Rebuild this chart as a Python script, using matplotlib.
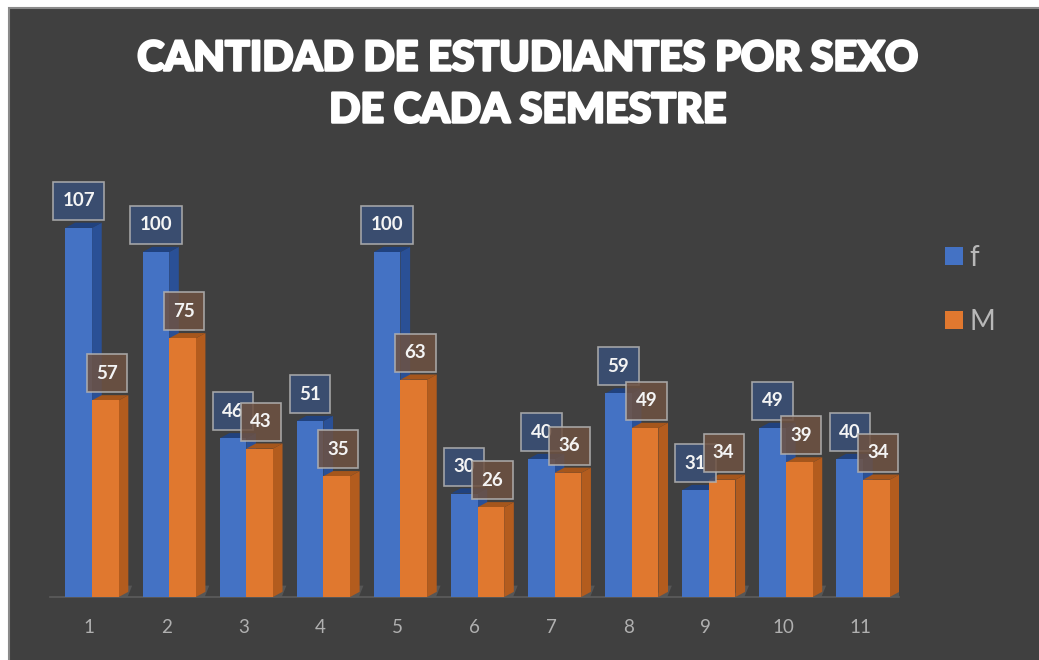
import matplotlib
matplotlib.use("Agg")
import matplotlib.pyplot as plt
from matplotlib.patches import Polygon, Rectangle
from matplotlib.path import Path
import matplotlib.patheffects as pe

semesters = [1, 2, 3, 4, 5, 6, 7, 8, 9, 10, 11]
f_values = [107, 100, 46, 51, 100, 30, 40, 59, 31, 49, 40]
m_values = [57, 75, 43, 35, 63, 26, 36, 49, 34, 39, 34]
title = "CANTIDAD DE ESTUDIANTES POR SEXO\nDE CADA SEMESTRE"

BG = "#404040"
W, H = 1039, 660
BAR_W = 0.345
SHIFT = 0.04
DX, DY = 0.125, 1.5

plt.rcParams["font.family"] = ["Lato", "DejaVu Sans"]
fig = plt.figure(figsize=(W / 100, H / 100), dpi=100, facecolor="white")
fig.add_artist(Rectangle((9 / W, -0.02), 1.02, 1.02 - 8 / H, transform=fig.transFigure,
                         facecolor=BG, edgecolor="#8a8a8a", linewidth=1.5, zorder=-5))

ax = fig.add_axes([50.45 / W, 1 - 597 / H, 848.1 / W, 414 / H])
ax.patch.set_alpha(0)
ax.set_xlim(0.5, 11.5)
ax.set_ylim(0, 120)


def label_box(x0, y0, width, height, mutation_size):
    # square box with different horizontal and vertical padding
    px, py = 0.5 * mutation_size, 0.56 * mutation_size
    x1, y1 = x0 + width + px, y0 + height + py
    a, b = x0 - px, y0 - py
    return Path([(a, b), (x1, b), (x1, y1), (a, y1), (a, b)], closed=True)


def bar3d(x, v, front, side, top, label):
    x0, x1 = x - BAR_W / 2, x + BAR_W / 2
    ax.add_patch(Polygon([(x1, 0), (x1 + DX, DY), (x1 + DX, v + DY), (x1, v)],
                         closed=True, facecolor=side, edgecolor="none", zorder=3))
    ax.add_patch(Polygon([(x0, v), (x0 + DX, v + DY), (x1 + DX, v + DY), (x1, v)],
                         closed=True, facecolor=top, edgecolor="none", zorder=3))
    return ax.bar(x, v, BAR_W, color=front, zorder=3, label=label)


BLUE = ("#4472c4", "#2a5096", "#21427e")
ORANGE = ("#e0782f", "#b35c1e", "#a5561c")
hf, hm = None, None
for s, fv, mv in zip(semesters, f_values, m_values):
    # floor wedge between groups
    ax.add_patch(Polygon([(s + 0.35, 0), (s + 0.45, DY * 2.2), (s + 0.56, DY * 2.2), (s + 0.5, 0)],
                         closed=True, facecolor="#565656", edgecolor="none", zorder=2))
    hf = bar3d(s + SHIFT - BAR_W / 2, fv, *BLUE, "f")
    hm = bar3d(s + SHIFT + BAR_W / 2, mv, *ORANGE, "M")

for color, xs_off, vals, zo in [("#3a5078", -BAR_W / 2, f_values, 5), ("#6e5242", BAR_W / 2 + 0.02, m_values, 6)]:
    for s, v in zip(semesters, vals):
        ax.annotate(str(v), (s + SHIFT + xs_off, v), xytext=(0, 27 * 0.72), textcoords="offset points",
                    ha="center", va="center", color="#f4f4f4", fontsize=13.5, fontweight="bold", zorder=zo,
                    bbox=dict(boxstyle=label_box, facecolor=color, edgecolor="#b4b4b4",
                              linewidth=1.2, alpha=0.85))

for sp in ("top", "right", "left"):
    ax.spines[sp].set_visible(False)
ax.spines["bottom"].set_color("#5c5c5c")
ax.spines["bottom"].set_linewidth(1.2)
ax.set_yticks([])
ax.set_xticks(semesters)
ax.set_xticklabels(semesters)
ax.tick_params(axis="x", length=0, pad=16, labelcolor="#b0b0b0", labelsize=13.5)

fig.text(528 / W, 1 - 84.5 / H, title, ha="center", va="center", color="white", fontsize=29.6,
         fontweight="black", linespacing=1.45,
         path_effects=[pe.withStroke(linewidth=1.8, foreground="white")])

leg = fig.legend([hf, hm], ["f", "M"], loc="upper left", bbox_to_anchor=(939 / W, 1 - 239 / H),
                 frameon=False, handlelength=0.65, handleheight=0.65, handletextpad=0.25,
                 labelspacing=1.38, fontsize=20, labelcolor="#b8b8b8", borderpad=0.2, borderaxespad=0)

fig.savefig("out.png", dpi=100, facecolor="white")
